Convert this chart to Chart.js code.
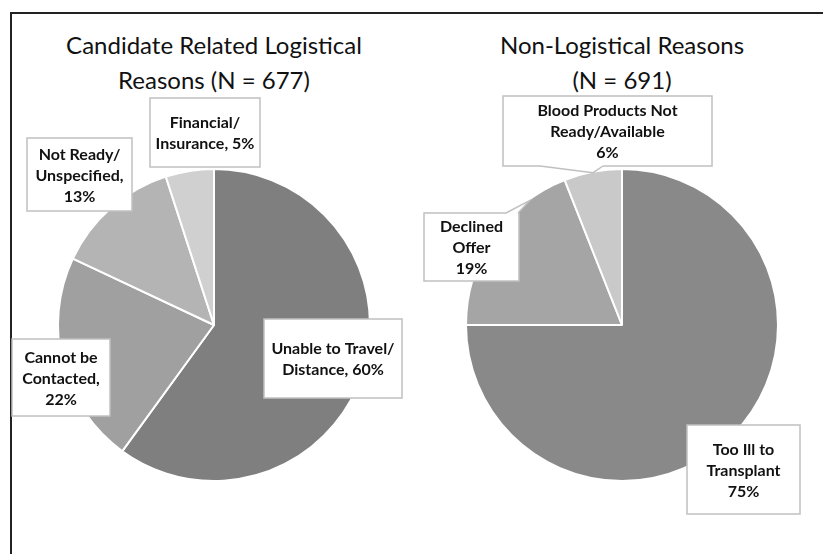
<!DOCTYPE html>
<html>
<head>
<meta charset="utf-8">
<script src="https://cdn.jsdelivr.net/npm/chart.js@4.4.0/dist/chart.umd.min.js"></script>
<style>
    html, body { margin: 0; padding: 0; background: #fff; overflow: hidden; }
    #wrap { position: relative; width: 823px; height: 554px; overflow: hidden; }
    #frame { position: absolute; left: 10px; top: 12px; width: 900px; height: 700px; border: 2.5px solid #222; box-sizing: border-box; }
    .title { position: absolute; top: 27px; font-family: Lato, sans-serif; font-size: 24px; line-height: 35px; text-align: center; color: #111; }
    canvas { position: absolute; top: 0; }
</style>
</head>
<body>
<div id="wrap">
    <div id="frame"></div>
    <div class="title" id="title1" style="left:0; width:428px;"></div>
    <div class="title" id="title2" style="left:421px; width:402px;"></div>
    <canvas id="pie1" width="428" height="554" style="left:0"></canvas>
    <canvas id="pie2" width="402" height="554" style="left:421px"></canvas>
</div>
<script>
// Data
const title1 = ['Candidate Related Logistical', 'Reasons (N = 677)'];
const title2 = ['Non-Logistical Reasons', '(N = 691)'];

const logisticalLabels = ['Unable to Travel/ Distance', 'Cannot be Contacted', 'Not Ready/ Unspecified', 'Financial/ Insurance'];
const logisticalValues = [60, 22, 13, 5];

const nonLogisticalLabels = ['Too Ill to Transplant', 'Declined Offer', 'Blood Products Not Ready/Available'];
const nonLogisticalValues = [75, 19, 6];

document.getElementById('title1').innerHTML = title1.join('<br>');
document.getElementById('title2').innerHTML = title2.join('<br>');

// wrap words into lines that fit maxW
function wrapText(ctx, text, maxW) {
    const words = text.split(' ');
    const lines = [];
    let line = '';
    words.forEach(w => {
        const test = line ? line + ' ' + w : w;
        if (line && ctx.measureText(test).width > maxW) {
            lines.push(line);
            line = w;
        } else {
            line = test;
        }
    });
    if (line) lines.push(line);
    return lines;
}

// Boxed data labels, placed relative to the pie centre
const calloutPlugin = {
    id: 'callouts',
    afterDatasetsDraw(chart, args, opts) {
        const ctx = chart.ctx;
        const meta = chart.getDatasetMeta(0);
        const ds = chart.data.datasets[0];
        ctx.save();
        ctx.font = 'bold 16px Lato, sans-serif';
        meta.data.forEach((arc, i) => {
            const b = opts.boxes[i];
            const x0 = arc.x + b.dx, y0 = arc.y + b.dy;
            const label = chart.data.labels[i];
            const pct = ds.data[i] + '%';
            let lines;
            if (opts.pctOnNewLine) {
                lines = wrapText(ctx, label, b.w - 8).concat([pct]);
            } else {
                lines = wrapText(ctx, label + ', ' + pct, b.w - 8);
            }

            ctx.fillStyle = '#fff';
            ctx.fillRect(x0, y0, b.w, b.h);
            ctx.strokeStyle = '#c0c0c0';
            ctx.lineWidth = 1.5;
            ctx.strokeRect(x0, y0, b.w, b.h);

            // small callout wedge pointing at the slice
            if (b.pointer) {
                const p = b.pointer;
                const a = arc.startAngle + (arc.endAngle - arc.startAngle) * p.frac;
                const tx = arc.x + Math.cos(a) * (arc.outerRadius - 1);
                const ty = arc.y + Math.sin(a) * (arc.outerRadius - 1);
                const by = p.edge === 'top' ? y0 : y0 + b.h;
                const inset = p.edge === 'top' ? 2 : -2;
                ctx.beginPath();
                ctx.moveTo(tx, ty);
                ctx.lineTo(x0 + p.x1, by);
                ctx.lineTo(x0 + p.x1, by + inset);
                ctx.lineTo(x0 + p.x2, by + inset);
                ctx.lineTo(x0 + p.x2, by);
                ctx.closePath();
                ctx.fill();
                ctx.beginPath();
                ctx.moveTo(x0 + p.x1, by);
                ctx.lineTo(tx, ty);
                ctx.lineTo(x0 + p.x2, by);
                ctx.stroke();
            }

            ctx.fillStyle = '#111';
            ctx.textAlign = 'center';
            ctx.textBaseline = 'middle';
            const lh = 21;
            const cy = y0 + b.h / 2 - (lines.length - 1) * lh / 2 + 1;
            lines.forEach((ln, k) => ctx.fillText(ln, x0 + b.w / 2, cy + k * lh));
        });
        ctx.restore();
    }
};

function pieOptions(padX, boxes, pctOnNewLine) {
    return {
        responsive: false,
        animation: false,
        layout: { padding: { left: padX, right: padX, top: 168, bottom: 72 } },
        plugins: {
            legend: { display: false },
            tooltip: { enabled: false },
            callouts: { boxes: boxes, pctOnNewLine: pctOnNewLine }
        }
    };
}

// Candidate related logistical reasons
new Chart(document.getElementById('pie1'), {
    type: 'pie',
    data: {
        labels: logisticalLabels,
        datasets: [{
            data: logisticalValues,
            backgroundColor: ['#7f7f7f', '#a0a0a0', '#b4b4b4', '#d0d0d0'],
            borderColor: '#fff',
            borderWidth: 2,
            hoverOffset: 0
        }]
    },
    options: pieOptions(57, [
        { dx: 50, dy: -6, w: 138, h: 79 },
        { dx: -202, dy: 14, w: 98, h: 77 },
        { dx: -187, dy: -187, w: 105, h: 73 },
        { dx: -64, dy: -227, w: 110, h: 69 }
    ], false),
    plugins: [calloutPlugin]
});

// Non-logistical reasons
new Chart(document.getElementById('pie2'), {
    type: 'pie',
    data: {
        labels: nonLogisticalLabels,
        datasets: [{
            data: nonLogisticalValues,
            backgroundColor: ['#898989', '#a5a5a5', '#c9c9c9'],
            borderColor: '#fff',
            borderWidth: 2,
            hoverOffset: 0
        }]
    },
    options: pieOptions(44, [
        { dx: 65, dy: 100, w: 113, h: 89 },
        { dx: -198, dy: -112, w: 95, h: 68, pointer: { edge: 'top', x1: 82, x2: 94, frac: 0.78 } },
        { dx: -119, dy: -229, w: 209, h: 70, pointer: { edge: 'bottom', x1: 37, x2: 100, frac: 0.5 } }
    ], true),
    plugins: [calloutPlugin]
});
</script>
</body>
</html>
